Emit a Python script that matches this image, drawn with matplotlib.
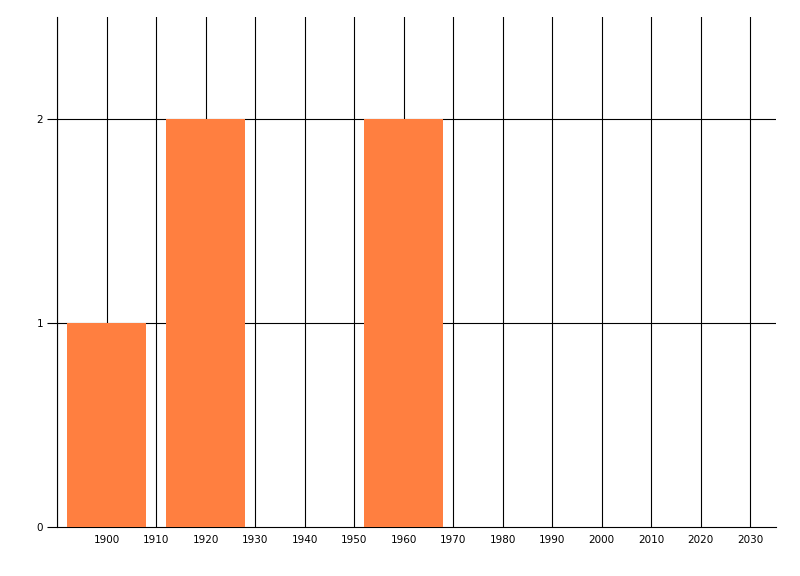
import matplotlib
matplotlib.use("Agg")
import matplotlib.pyplot as plt

# histogram bins (centre year) and counts
bin_centers = [1900, 1920, 1960]
counts = [1, 2, 2]
bin_width = 16
x_ticks = list(range(1900, 2031, 10))
y_ticks = [0, 1, 2]

fig = plt.figure(figsize=(8, 5.76), dpi=100)
ax = fig.add_axes([57 / 800, 49 / 576, (776 - 57) / 800, (527 - 17) / 576])

ax.bar(bin_centers, counts, width=bin_width, color="#FF7F40", zorder=3)

ax.set_xlim(1890, 2035.2)
ax.set_ylim(0, 2.5)

# grid lines every 10 years, and at each integer count
for x in range(1890, 2031, 10):
    ax.axvline(x, color="black", lw=0.8, zorder=1)
for y in y_ticks[1:]:
    ax.axhline(y, color="black", lw=0.8, zorder=1)

ax.set_xticks(x_ticks)
ax.set_yticks(y_ticks)
ax.tick_params(axis="x", length=0, pad=6, labelsize=7.5)
ax.tick_params(axis="y", length=7, width=0.8, pad=3, labelsize=7.5)

for s in ["top", "right"]:
    ax.spines[s].set_visible(False)
ax.spines["left"].set_linewidth(0.8)
ax.spines["bottom"].set_linewidth(0.8)

fig.savefig("out.png", dpi=100)
